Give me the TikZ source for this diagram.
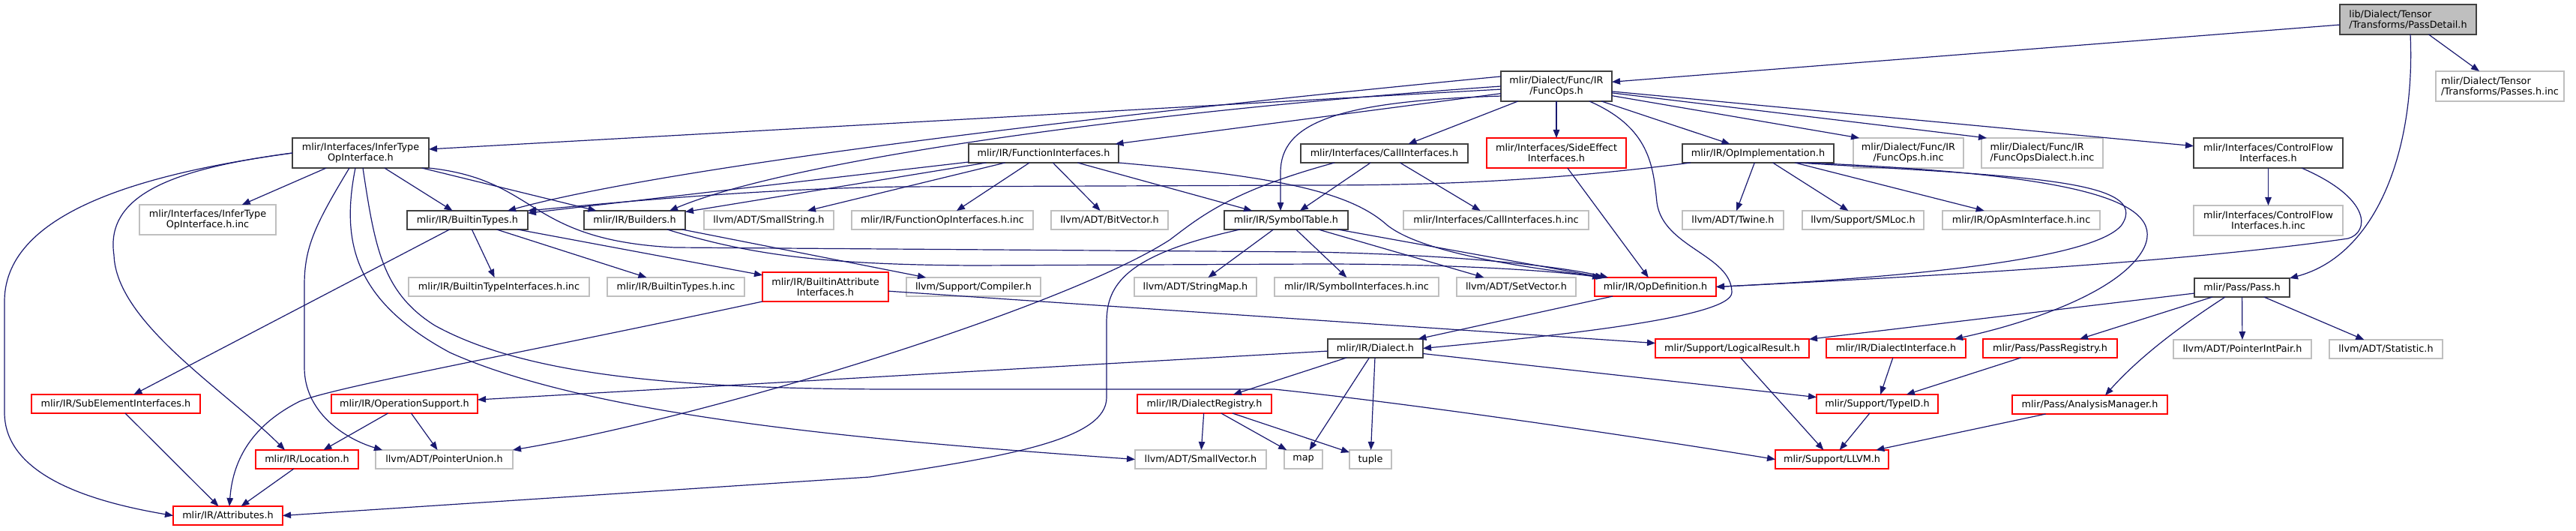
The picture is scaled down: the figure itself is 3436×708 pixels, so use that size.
\documentclass[tikz,border=0pt]{standalone}
\usepackage{fontspec}
\setmainfont{DejaVu Sans}
\usetikzlibrary{arrows.meta}
\definecolor{edgec}{HTML}{191970}
\definecolor{blkb}{HTML}{404040}
\definecolor{grayb}{HTML}{BFBFBF}
\definecolor{redb}{HTML}{FF0000}
\tikzset{
  boxbase/.style={rectangle, inner sep=0pt, outer sep=0pt, line width=1.4pt, align=center, font=\fontsize{12.8}{14}\selectfont},
  nb/.style={boxbase, draw=blkb},
  ng/.style={boxbase, draw=grayb},
  nr/.style={boxbase, draw=redb},
  npd/.style={boxbase, draw=blkb, fill=grayb},
  ed/.style={draw=edgec, line width=1.2pt, -{Triangle[length=11pt,width=8.5pt]}},
}
\newcommand{\mkbox}[7]{\node[#2, minimum width={#5-#3}, minimum height={#6-#4}] (#1) at ({(#3+#5)/2},{(#4+#6)/2}) {#7};}
\begin{document}
\begin{tikzpicture}[x=1pt,y=-1pt]
\useasboundingbox (0,0) rectangle (3436,708);
% nodes
\mkbox{pd}{npd,align=left}{3121}{6}{3303}{46}{lib/Dialect/Tensor\\/Transforms/PassDetail.h}
\mkbox{pinc}{ng,align=left}{3249}{95}{3420}{135}{mlir/Dialect/Tensor\\/Transforms/Passes.h.inc}
\mkbox{fo}{nb}{2002}{95}{2150}{135}{mlir/Dialect/Func/IR\\/FuncOps.h}
\mkbox{iti}{nb}{390}{184}{572}{224}{mlir/Interfaces/InferType\\OpInterface.h}
\mkbox{fi}{nb}{1292}{192}{1492}{217}{mlir/IR/FunctionInterfaces.h}
\mkbox{ci}{nb}{1735}{192}{1958}{217}{mlir/Interfaces/CallInterfaces.h}
\mkbox{sei}{nr}{1983}{184}{2169}{224}{mlir/Interfaces/SideEffect\\Interfaces.h}
\mkbox{oi}{nb}{2244}{192}{2446}{217}{mlir/IR/OpImplementation.h}
\mkbox{foinc}{ng}{2472}{184}{2619}{224}{mlir/Dialect/Func/IR\\/FuncOps.h.inc}
\mkbox{fodinc}{ng,align=left}{2643}{184}{2805}{224}{mlir/Dialect/Func/IR\\/FuncOpsDialect.h.inc}
\mkbox{cfi}{nb}{2926}{184}{3125}{224}{mlir/Interfaces/ControlFlow\\Interfaces.h}
\mkbox{itiinc}{ng}{186}{273}{368}{313}{mlir/Interfaces/InferType\\OpInterface.h.inc}
\mkbox{bt}{nb}{543}{281}{704}{306}{mlir/IR/BuiltinTypes.h}
\mkbox{bld}{nb}{779}{281}{914}{306}{mlir/IR/Builders.h}
\mkbox{ss}{ng}{939}{281}{1112}{306}{llvm/ADT/SmallString.h}
\mkbox{foiinc}{ng}{1136}{281}{1378}{306}{mlir/IR/FunctionOpInterfaces.h.inc}
\mkbox{bv}{ng}{1402}{281}{1558}{306}{llvm/ADT/BitVector.h}
\mkbox{st}{nb}{1633}{281}{1798}{306}{mlir/IR/SymbolTable.h}
\mkbox{ciinc}{ng}{1872}{281}{2119}{306}{mlir/Interfaces/CallInterfaces.h.inc}
\mkbox{tw}{ng}{2244}{281}{2379}{306}{llvm/ADT/Twine.h}
\mkbox{sml}{ng}{2404}{281}{2566}{306}{llvm/Support/SMLoc.h}
\mkbox{oaiinc}{ng}{2591}{281}{2801}{306}{mlir/IR/OpAsmInterface.h.inc}
\mkbox{cfiinc}{ng}{2926}{274}{3125}{314}{mlir/Interfaces/ControlFlow\\Interfaces.h.inc}
\mkbox{btiinc}{ng}{545}{370}{786}{395}{mlir/IR/BuiltinTypeInterfaces.h.inc}
\mkbox{btinc}{ng}{810}{370}{993}{395}{mlir/IR/BuiltinTypes.h.inc}
\mkbox{bai}{nr}{1017}{363}{1185}{402}{mlir/IR/BuiltinAttribute\\Interfaces.h}
\mkbox{comp}{ng}{1209}{370}{1388}{395}{llvm/Support/Compiler.h}
\mkbox{sm}{ng}{1513}{370}{1676}{395}{llvm/ADT/StringMap.h}
\mkbox{siinc}{ng}{1700}{370}{1919}{395}{mlir/IR/SymbolInterfaces.h.inc}
\mkbox{sv}{ng}{1943}{370}{2102}{395}{llvm/ADT/SetVector.h}
\mkbox{od}{nr}{2127}{370}{2289}{395}{mlir/IR/OpDefinition.h}
\mkbox{pass}{nb}{2927}{371}{3054}{396}{mlir/Pass/Pass.h}
\mkbox{dia}{nb}{1771}{452}{1898}{477}{mlir/IR/Dialect.h}
\mkbox{lr}{nr}{2208}{452}{2413}{477}{mlir/Support/LogicalResult.h}
\mkbox{di}{nr}{2436}{452}{2622}{477}{mlir/IR/DialectInterface.h}
\mkbox{pr}{nr}{2645}{452}{2824}{477}{mlir/Pass/PassRegistry.h}
\mkbox{pip}{ng}{2899}{453}{3083}{478}{llvm/ADT/PointerIntPair.h}
\mkbox{stat}{ng}{3107}{453}{3258}{478}{llvm/ADT/Statistic.h}
\mkbox{sei2}{nr}{42}{526}{267}{551}{mlir/IR/SubElementInterfaces.h}
\mkbox{os}{nr}{442}{526}{637}{551}{mlir/IR/OperationSupport.h}
\mkbox{dr}{nr}{1517}{526}{1696}{551}{mlir/IR/DialectRegistry.h}
\mkbox{tid}{nr}{2423}{526}{2585}{551}{mlir/Support/TypeID.h}
\mkbox{am}{nr}{2684}{527}{2891}{552}{mlir/Pass/AnalysisManager.h}
\mkbox{loc}{nr}{341}{600}{478}{625}{mlir/IR/Location.h}
\mkbox{pu}{ng}{501}{600}{684}{625}{llvm/ADT/PointerUnion.h}
\mkbox{svec}{ng}{1514}{600}{1689}{625}{llvm/ADT/SmallVector.h}
\mkbox{map}{ng}{1713}{600}{1764}{625}{map}
\mkbox{tup}{ng}{1800}{600}{1856}{625}{tuple}
\mkbox{llvm}{nr}{2368}{600}{2519}{625}{mlir/Support/LLVM.h}
\mkbox{attr}{nr}{231}{675}{377}{700}{mlir/IR/Attributes.h}
% edges: PassDetail
\draw[ed] (pd) -- (fo);
\draw[ed] (pd) -- (pinc);
\draw[ed] (3215,0 |- pd.south) .. controls (3222,200) and (3170,340) .. (pass.north east);
% FuncOps
\draw[ed] (fo) -- (iti);
\draw[ed] (fo.170) .. controls (1500,150) and (900,220) .. (677,0 |- bt.north);
\draw[ed] (fo.west) .. controls (1500,150) and (1050,215) .. (893,0 |- bld.north);
\draw[ed] (fo) -- (fi);
\draw[ed] (fo.190) .. controls (1780,135) and (1708,165) .. (1708,230) -- (1708,0 |- st.north);
\draw[ed] (fo) -- (ci);
\draw[ed] (fo) -- (sei);
\draw[ed] (2120,0 |- fo.south) .. controls (2200,170) and (2205,220) .. (2210,270) .. controls (2218,330) and (2310,340) .. (2310,390) .. controls (2310,425) and (2050,450) .. (dia.east);
\draw[ed] (fo) -- (oi);
\draw[ed] (fo) -- (2480,0 |- foinc.north);
\draw[ed] (fo) -- (2650,0 |- fodinc.north);
\draw[ed] (fo) -- (cfi);
% InferTypeOpInterface
\draw[ed] (iti) -- (itiinc);
\draw[ed] (iti) -- (bt);
\draw[ed] (iti) -- (bld);
\draw[ed] (iti.south east) .. controls (720,240) and (700,320) .. (900,330) -- (1750,336) .. controls (1950,340) and (2080,355) .. (2145,0 |- od.north);
\draw[ed] (iti.west) .. controls (230,225) and (140,260) .. (152,340) .. controls (155,430) and (300,520) .. (380,0 |- loc.north);
\draw[ed] (iti.west) .. controls (200,230) and (8,280) .. (6,400) -- (6,550) .. controls (6,640) and (140,672) .. (attr.west);
\draw[ed] (466,0 |- iti.south) .. controls (420,300) and (406,330) .. (406,380) -- (406,490) .. controls (406,550) and (460,585) .. (510,0 |- pu.north);
\draw[ed] (474,0 |- iti.south) .. controls (455,320) and (470,400) .. (600,470) .. controls (800,560) and (1200,590) .. (svec.west);
\draw[ed] (484,0 |- iti.south) .. controls (500,330) and (510,390) .. (580,434) .. controls (700,500) and (900,518) .. (1180,519) -- (1700,519) .. controls (1900,540) and (2200,585) .. (llvm.west);
% FunctionInterfaces
\draw[ed] (fi) -- (bt);
\draw[ed] (fi) -- (bld);
\draw[ed] (fi) -- (ss);
\draw[ed] (fi) -- (foiinc);
\draw[ed] (fi) -- (bv);
\draw[ed] (fi) -- (st);
\draw[ed] (fi.south east) .. controls (1700,235) and (1800,255) .. (1850,300) .. controls (1900,340) and (2050,358) .. (2140,0 |- od.north);
% CallInterfaces
\draw[ed] (ci) -- (st);
\draw[ed] (ci) -- (ciinc);
\draw[ed] (1780,0 |- ci.south) .. controls (1640,255) and (1600,290) .. (1560,320) .. controls (1420,410) and (950,555) .. (pu.north east);
% SideEffect
\draw[ed] (sei) -- (od);
% OpImplementation
\draw[ed] (2255,0 |- oi.south) .. controls (2050,243) and (1900,247) .. (1750,247) -- (1200,249) .. controls (1000,252) and (800,272) .. (bt.north east);
\draw[ed] (oi) -- (tw);
\draw[ed] (oi) -- (sml);
\draw[ed] (oi) -- (oaiinc);
\draw[ed] (2397,0 |- oi.south) .. controls (2700,235) and (2870,240) .. (2830,300) .. controls (2790,350) and (2500,372) .. (od.east);
\draw[ed] (2410,0 |- oi.south) .. controls (2760,232) and (2890,265) .. (2860,330) .. controls (2830,390) and (2700,432) .. (2607,0 |- di.north);
% ControlFlow
\draw[ed] (cfi) -- (cfiinc);
\draw[ed] (3070,0 |- cfi.south) .. controls (3165,265) and (3160,310) .. (3132,318) .. controls (2900,352) and (2500,372) .. (od.east);
% BuiltinTypes
\draw[ed] (bt) -- (btiinc);
\draw[ed] (bt) -- (btinc);
\draw[ed] (bt) -- (bai);
\draw[ed] (bt) -- (sei2);
% Builders
\draw[ed] (890,0 |- bld.south) .. controls (1000,340) and (1100,353) .. (1300,354) -- (1760,352) .. controls (1950,352) and (2080,362) .. (2135,0 |- od.north);
\draw[ed] (bld) -- (comp);
% SymbolTable
\draw[ed] (1654,0 |- st.south) .. controls (1500,340) and (1476,380) .. (1476,430) -- (1476,530) .. controls (1476,585) and (1350,608) .. (1160,636) -- (attr.east);
\draw[ed] (st) -- (sm);
\draw[ed] (st) -- (siinc);
\draw[ed] (st) -- (sv);
\draw[ed] (st) -- (od);
% BuiltinAttributeInterfaces
\draw[ed] (bai) -- (lr);
\draw[ed] (bai.south west) .. controls (700,470) and (450,515) .. (400,535) .. controls (330,570) and (310,620) .. (306,0 |- attr.north);
% OpDefinition, Dialect
\draw[ed] (od) -- (dia);
\draw[ed] (dia) -- (os);
\draw[ed] (dia) -- (dr);
\draw[ed] (dia) -- (map);
\draw[ed] (dia) -- (tup);
\draw[ed] (dia) -- (tid);
% Pass
\draw[ed] (pass) -- (lr);
\draw[ed] (pass) -- (pr);
\draw[ed] (2968,0 |- pass.south) .. controls (2900,440) and (2850,480) .. (2808,0 |- am.north);
\draw[ed] (pass) -- (pip);
\draw[ed] (pass) -- (stat);
% lower levels
\draw[ed] (lr) -- (llvm);
\draw[ed] (di) -- (tid);
\draw[ed] (pr) -- (tid);
\draw[ed] (tid) -- (llvm);
\draw[ed] (am) -- (llvm);
\draw[ed] (dr) -- (svec);
\draw[ed] (dr) -- (map);
\draw[ed] (dr) -- (tup);
\draw[ed] (os) -- (loc);
\draw[ed] (os) -- (pu);
\draw[ed] (loc) -- (attr);
\draw[ed] (sei2) -- (attr);
\end{tikzpicture}
\end{document}
